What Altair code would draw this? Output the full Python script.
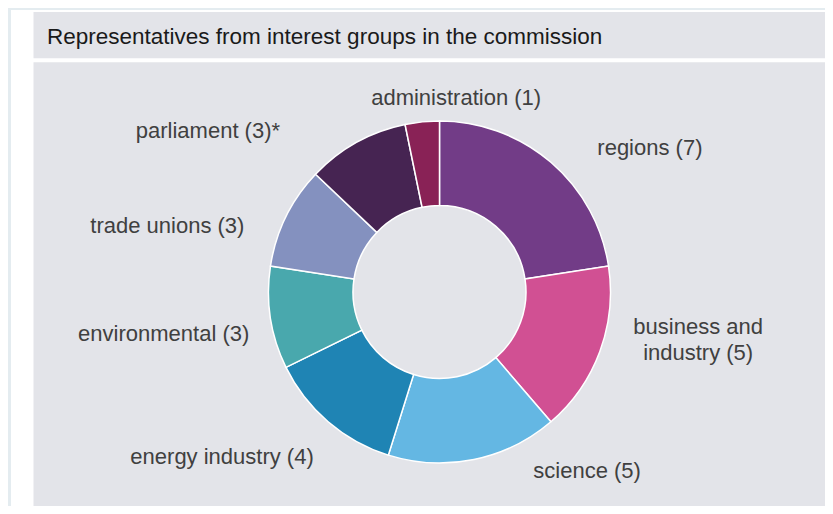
import math
import altair as alt
import pandas as pd

# ---- data ----
categories = ["regions", "business and industry", "science", "energy industry",
              "environmental", "trade unions", "parliament", "administration"]
counts = [7, 5, 5, 4, 3, 3, 3, 1]
label_texts = ["regions (7)", "business and\nindustry (5)", "science (5)",
               "energy industry (4)", "environmental  (3)", "trade unions (3)",
               "parliament (3)*", "administration (1)"]
colors = ["#723c87", "#d15093", "#64b7e3", "#1f84b4",
          "#49a8ad", "#8491bf", "#462452", "#892256"]
title_text = "Representatives from interest groups in the commission"

# ---- layout (label anchors in polar coordinates around the donut centre) ----
label_angle_deg = [55.6, 97.7, 140.5, 232.8, 261.3, 283.6, 304.8, 4.9]
label_radius = [255, 261, 232, 273, 279, 280, 282, 195]

W, H = 817, 498
CX, CY = 431.5, 284
R_OUT, R_IN = 171, 86.5
FONT = "Liberation Sans, Arial, Helvetica, sans-serif"

df = pd.DataFrame({"category": categories, "count": counts,
                   "idx": list(range(len(categories)))})
df_lab = pd.DataFrame({"label": label_texts,
                       "a": [math.radians(a) for a in label_angle_deg],
                       "r": label_radius})
one = pd.DataFrame({"k": [0]})

def box(x, x2, y, y2, color):
    return alt.Chart(one).mark_rect(color=color).encode(
        x=alt.value(x), x2=alt.value(x2), y=alt.value(y), y2=alt.value(y2))

bg_white = box(3, W, 2, H, "#ffffff")
bg_title = box(25.5, W, 4, 50.3, "#e3e4e9")
bg_body = box(25.5, W, 54.3, H, "#e3e4e9")

title = alt.Chart(one).mark_text(
    text=title_text, align="left", baseline="middle", font=FONT,
    fontSize=22.5, color="#1a1a1a").encode(x=alt.value(39), y=alt.value(29))

arcs = alt.Chart(df).mark_arc(
    innerRadius=R_IN, outerRadius=R_OUT, stroke="#ffffff", strokeWidth=1.5
).encode(
    theta=alt.Theta("count:Q", stack=True),
    color=alt.Color("category:N", scale=alt.Scale(domain=categories, range=colors),
                    legend=None),
    order=alt.Order("idx:Q"),
    x=alt.value(CX), y=alt.value(CY),
)

labels = alt.Chart(df_lab).mark_text(
    align="center", baseline="middle", font=FONT, fontSize=22,
    color="#404040", lineBreak="\n", lineHeight=26
).encode(
    text="label:N",
    theta=alt.Theta("a:Q", scale=None, stack=False),
    radius=alt.Radius("r:Q", scale=None),
    x=alt.value(CX), y=alt.value(CY),
)

chart = alt.layer(bg_white, bg_title, bg_body, title, arcs, labels).properties(
    width=W, height=H, background="#e4ecf0", padding=0,
    autosize=alt.AutoSizeParams(type="none"),
).configure_view(stroke=None)

chart.save("out.html", embed_options={"renderer": "svg", "actions": False})
